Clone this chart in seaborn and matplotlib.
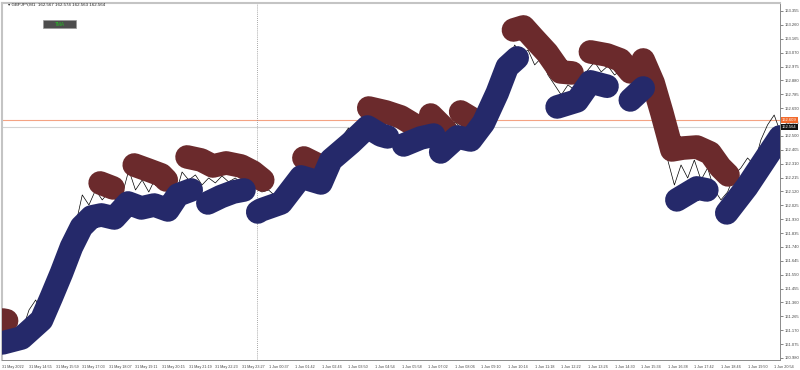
import matplotlib
matplotlib.use("Agg")
import matplotlib.pyplot as plt
import seaborn as sns
import pandas as pd
import numpy as np
from matplotlib.patches import Rectangle

# ---------------- data ----------------
symbol_title = "\u25be GBPJPY,M1  162.567 162.574 162.563 162.564"
button_text = "TMA"

x_tick_labels = ["31 May 2022", "31 May 14:55", "31 May 15:59", "31 May 17:03", "31 May 18:07",
                 "31 May 19:11", "31 May 20:15", "31 May 21:19", "31 May 22:23", "31 May 23:27",
                 "1 Jun 00:37", "1 Jun 01:42", "1 Jun 02:46", "1 Jun 03:50", "1 Jun 04:54",
                 "1 Jun 05:58", "1 Jun 07:02", "1 Jun 08:06", "1 Jun 09:10", "1 Jun 10:14",
                 "1 Jun 11:18", "1 Jun 12:22", "1 Jun 13:26", "1 Jun 14:30", "1 Jun 15:34",
                 "1 Jun 16:38", "1 Jun 17:42", "1 Jun 18:46", "1 Jun 19:50", "1 Jun 20:54"]
bars_per_label = 64

y_tick_values = [160.980, 161.075, 161.170, 161.265, 161.360, 161.455, 161.550, 161.645,
                 161.740, 161.835, 161.930, 162.025, 162.120, 162.215, 162.310, 162.405,
                 162.500, 162.595, 162.690, 162.785, 162.880, 162.975, 163.070, 163.165,
                 163.260, 163.355]

bid_price = 162.564
ask_price = 162.609
separator_bar = 612

# close price, one value every 16 bars
price_step = 16
close_prices = [161.172, 161.137, 161.206, 161.172, 161.309, 161.377, 161.274, 161.411, 161.514, 161.719,
                161.685, 161.890, 162.096, 162.027, 162.130, 162.062, 162.116, 162.062, 162.096, 162.267,
                162.130, 162.198, 162.116, 162.212, 162.130, 162.164, 162.096, 162.253, 162.198, 162.233,
                162.164, 162.212, 162.178, 162.226, 162.185, 162.212, 162.171, 162.198, 162.144, 162.116,
                162.130, 162.089, 162.144, 162.164, 162.212, 162.267, 162.233, 162.281, 162.212, 162.335,
                162.404, 162.486, 162.554, 162.506, 162.595, 162.623, 162.575, 162.609, 162.554, 162.595,
                162.541, 162.561, 162.506, 162.554, 162.527, 162.575, 162.486, 162.541, 162.595, 162.554,
                162.609, 162.575, 162.664, 162.746, 162.801, 162.883, 163.020, 163.122, 163.054, 163.088,
                162.986, 163.034, 162.917, 162.849, 162.780, 162.849, 162.814, 162.883, 162.951, 163.006,
                162.938, 162.979, 162.917, 162.951, 162.869, 162.897, 162.849, 162.780, 162.678, 162.541,
                162.335, 162.164, 162.301, 162.212, 162.335, 162.198, 162.281, 162.130, 162.062, 162.116,
                162.233, 162.281, 162.349, 162.301, 162.472, 162.575, 162.643, 162.564]

# upper band (red) segments: lists of (bar, price)
upper_segments = [
    [(0, 161.240), (10, 161.235)],
    [(235, 162.178), (266, 162.144)],
    [(317, 162.301), (350, 162.267), (382, 162.233), (394, 162.198)],
    [(444, 162.356), (478, 162.335), (506, 162.294), (538, 162.315), (574, 162.294), (602, 162.253), (626, 162.198)],
    [(725, 162.349), (754, 162.308)],
    [(881, 162.691), (922, 162.664), (958, 162.630), (986, 162.582)],
    [(1030, 162.643), (1066, 162.541)],
    [(1102, 162.664), (1126, 162.623)],
    [(1229, 163.225), (1253, 163.246), (1277, 163.170), (1310, 163.068), (1342, 162.938), (1370, 162.931)],
    [(1414, 163.075), (1454, 163.054), (1486, 163.020), (1510, 162.938)],
    [(1541, 163.020), (1565, 162.862), (1586, 162.657), (1610, 162.404), (1637, 162.417), (1670, 162.424),
     (1702, 162.383), (1726, 162.287), (1745, 162.233)],
]

# lower band (blue) segments
lower_segments = [
    [(0, 161.083), (46, 161.117), (94, 161.240), (118, 161.398), (142, 161.562), (166, 161.740), (190, 161.877),
     (214, 161.945), (238, 161.959), (269, 161.938), (302, 162.041), (334, 162.007), (365, 162.027),
     (398, 161.993), (422, 162.096), (454, 162.130)],
    [(494, 162.041), (526, 162.085), (555, 162.116), (581, 162.130)],
    [(614, 161.979), (622, 161.993), (670, 162.041), (718, 162.219), (766, 162.178), (790, 162.335),
     (838, 162.452), (878, 162.561), (910, 162.506), (926, 162.493)],
    [(965, 162.438), (1006, 162.486), (1037, 162.506)],
    [(1054, 162.390), (1094, 162.493), (1126, 162.472), (1157, 162.589), (1190, 162.794), (1214, 162.972),
     (1238, 163.034)],
    [(1334, 162.698), (1382, 162.740), (1414, 162.870), (1454, 162.840)],
    [(1510, 162.746), (1541, 162.828)],
    [(1622, 162.062), (1670, 162.144), (1694, 162.130)],
    [(1742, 161.973), (1790, 162.150), (1838, 162.356), (1870, 162.493)],
]

upper_color = "#6b2a2c"
lower_color = "#25296a"

# ---------------- build tables ----------------
price_bars = [i * price_step for i in range(len(close_prices) - 1)] + [1866]
price_df = pd.DataFrame({"bar": price_bars, "price": close_prices})

rows = []
for name, segs in (("upper", upper_segments), ("lower", lower_segments)):
    for si, seg in enumerate(segs):
        for b, p in seg:
            rows.append({"bar": b, "price": p, "band": name, "seg": f"{name}{si}"})
band_df = pd.DataFrame(rows)

# ---------------- plot ----------------
sns.set_style("white")
plt.rcParams["font.family"] = ["Liberation Sans", "DejaVu Sans"]

fig = plt.figure(figsize=(8, 3.7), dpi=100)
ax = fig.add_axes([0.002, 0.027, 0.973, 0.965])

sns.lineplot(data=price_df, x="bar", y="price", color="black", linewidth=0.5, ax=ax, zorder=2)
n_before = len(ax.lines)
sns.lineplot(data=band_df, x="bar", y="price", hue="band", units="seg", estimator=None, sort=False,
             palette={"upper": upper_color, "lower": lower_color}, linewidth=17, legend=False, ax=ax)
for ln in ax.lines[n_before:]:
    ln.set_solid_capstyle("round")
    ln.set_solid_joinstyle("round")
    ln.set_zorder(3)

ax.axhline(ask_price, color="#f4a383", lw=0.8, zorder=1)
ax.axhline(bid_price, color="#d4d4d4", lw=0.8, zorder=1)
ax.axvline(separator_bar, color="#8c8c8c", lw=0.6, ls=(0, (1, 1.5)), zorder=1)

ax.set_xlim(-2, 1870)
ax.set_ylim(160.966, 163.410)

ax.yaxis.tick_right()
ax.set_yticks(y_tick_values)
ax.set_yticklabels([f"{v:.3f}" for v in y_tick_values])
ax.set_xticks([i * bars_per_label for i in range(len(x_tick_labels))])
ax.set_xticklabels(x_tick_labels, ha="left")
ax.tick_params(axis="y", labelsize=3.0, length=2, width=0.5, pad=1.5, colors="#555555", labelcolor="#444444")
ax.tick_params(axis="x", labelsize=2.7, length=2, width=0.5, pad=1.5, colors="#555555", labelcolor="#444444")
ax.set_xlabel("")
ax.set_ylabel("")

for side in ("left", "top"):
    ax.spines[side].set_color("#c4c4c4")
    ax.spines[side].set_linewidth(1.5)
for side in ("right", "bottom"):
    ax.spines[side].set_color("#8a8a8a")
    ax.spines[side].set_linewidth(0.7)

ax.annotate(f"{ask_price:.3f}", xy=(1.0, ask_price), xycoords=("axes fraction", "data"),
            xytext=(1.5, 0), textcoords="offset points", va="center", ha="left", fontsize=3.0,
            color="white", bbox=dict(boxstyle="square,pad=0.25", fc="#f26a2c", ec="none"), annotation_clip=False)
ax.annotate(f"{bid_price:.3f}", xy=(1.0, bid_price), xycoords=("axes fraction", "data"),
            xytext=(1.5, 0), textcoords="offset points", va="center", ha="left", fontsize=3.0,
            color="white", bbox=dict(boxstyle="square,pad=0.25", fc="#111111", ec="none"), annotation_clip=False)

fig.text(8 / 800, 1 - 4.5 / 370, symbol_title, fontsize=3.2, color="#222222", va="center", ha="left")
fig.patches.append(Rectangle((43 / 800, 1 - 28 / 370), 33 / 800, 8 / 370, transform=fig.transFigure,
                             fc="#4d4d4d", ec="#999999", lw=0.5))
fig.text(59.5 / 800, 1 - 24 / 370, button_text, fontsize=3.4, color="#22c022", va="center", ha="center")

fig.savefig("out.png", dpi=100)
